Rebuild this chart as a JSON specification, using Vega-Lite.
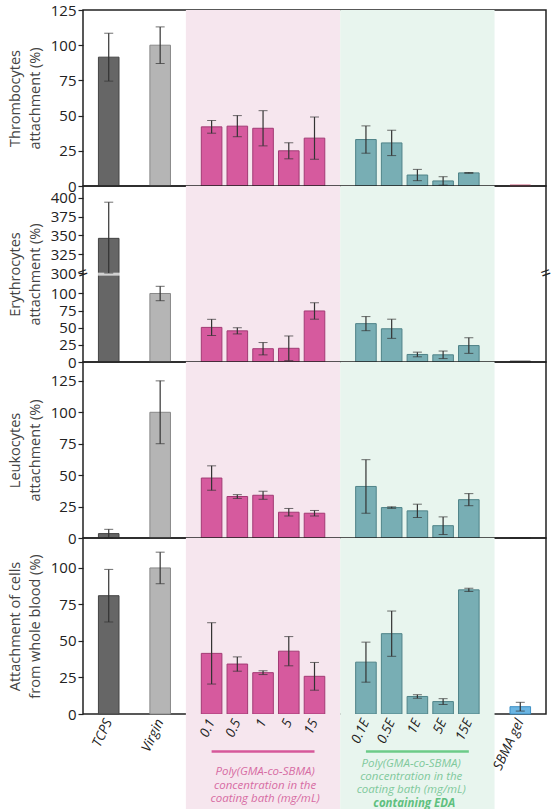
{
  "$schema": "https://vega.github.io/schema/vega-lite/v6.json",
  "padding": {"top": 2, "left": 6, "right": 7, "bottom": 0},
  "background": "white",
  "spacing": 0,
  "bounds": "flush",
  "config": {
    "font": "Open Sans",
    "view": {"stroke": "#222", "strokeWidth": 1.5},
    "axisY": {"grid": false, "domain": false, "ticks": true, "tickSize": 5, "tickColor": "#222", "tickWidth": 1.2, "labelFontSize": 15, "labelColor": "#222", "labelPadding": 2, "labelOverlap": false, "titleFontSize": 14.5, "titleFontWeight": "normal", "titleColor": "#444", "titleLineHeight": 20, "titlePadding": 8}
  },
  "datasets": {
    "bands": [
      {"region": "pink", "start": "_b", "end": "_c"},
      {"region": "green", "start": "_c", "end": "_d"}
    ],
    "notes": [
      {"grp": "coat", "text": "Poly(GMA-co-SBMA)\nconcentration in the\ncoating bath (mg/mL)"},
      {"grp": "coatE", "text": "Poly(GMA-co-SBMA)\nconcentration in the\ncoating bath (mg/mL)"},
      {"grp": "coatE2", "text": "containing EDA"},
      {"grp": "break", "text": "="}
    ],
    "vals": [
      {"panel": 1, "cat": "TCPS", "grp": "TCPS", "value": 91.5, "err": 17},
      {"panel": 1, "cat": "Virgin", "grp": "Virgin", "value": 100, "err": 13},
      {"panel": 1, "cat": "0.1", "grp": "coat", "value": 42, "err": 4.5},
      {"panel": 1, "cat": "0.5", "grp": "coat", "value": 42.5, "err": 7.5},
      {"panel": 1, "cat": "1", "grp": "coat", "value": 41, "err": 12.5},
      {"panel": 1, "cat": "5", "grp": "coat", "value": 25, "err": 5.7},
      {"panel": 1, "cat": "15", "grp": "coat", "value": 34, "err": 15},
      {"panel": 1, "cat": "0.1E", "grp": "coatE", "value": 33, "err": 9.7},
      {"panel": 1, "cat": "0.5E", "grp": "coatE", "value": 30.6, "err": 9},
      {"panel": 1, "cat": "1E", "grp": "coatE", "value": 7.8, "err": 4},
      {"panel": 1, "cat": "5E", "grp": "coatE", "value": 3.6, "err": 3},
      {"panel": 1, "cat": "15E", "grp": "coatE", "value": 9.3, "err": 0.3},
      {"panel": 1, "cat": "SBMA gel", "grp": "gelA", "value": 0.7, "err": 0},
      {"panel": 2, "cat": "TCPS", "grp": "TCPS", "value": 346, "err": 48},
      {"panel": 2, "cat": "Virgin", "grp": "Virgin", "value": 100, "err": 10.5},
      {"panel": 2, "cat": "0.1", "grp": "coat", "value": 50.5, "err": 11.8},
      {"panel": 2, "cat": "0.5", "grp": "coat", "value": 45.5, "err": 4.5},
      {"panel": 2, "cat": "1", "grp": "coat", "value": 19.4, "err": 9},
      {"panel": 2, "cat": "5", "grp": "coat", "value": 20, "err": 18},
      {"panel": 2, "cat": "15", "grp": "coat", "value": 74.5, "err": 12},
      {"panel": 2, "cat": "0.1E", "grp": "coatE", "value": 56, "err": 10.3},
      {"panel": 2, "cat": "0.5E", "grp": "coatE", "value": 48.5, "err": 14},
      {"panel": 2, "cat": "1E", "grp": "coatE", "value": 11, "err": 3.4},
      {"panel": 2, "cat": "5E", "grp": "coatE", "value": 10.5, "err": 5.5},
      {"panel": 2, "cat": "15E", "grp": "coatE", "value": 24, "err": 11.4},
      {"panel": 2, "cat": "SBMA gel", "grp": "gelB", "value": 1.2, "err": 0},
      {"panel": 3, "cat": "TCPS", "grp": "TCPS", "value": 3.5, "err": 3.4},
      {"panel": 3, "cat": "Virgin", "grp": "Virgin", "value": 100, "err": 25},
      {"panel": 3, "cat": "0.1", "grp": "coat", "value": 47.7, "err": 9.7},
      {"panel": 3, "cat": "0.5", "grp": "coat", "value": 33, "err": 1.5},
      {"panel": 3, "cat": "1", "grp": "coat", "value": 34, "err": 3.2},
      {"panel": 3, "cat": "5", "grp": "coat", "value": 20.5, "err": 3},
      {"panel": 3, "cat": "15", "grp": "coat", "value": 19.7, "err": 2.2},
      {"panel": 3, "cat": "0.1E", "grp": "coatE", "value": 41, "err": 21.3},
      {"panel": 3, "cat": "0.5E", "grp": "coatE", "value": 24.2, "err": 0.6},
      {"panel": 3, "cat": "1E", "grp": "coatE", "value": 21.6, "err": 5.3},
      {"panel": 3, "cat": "5E", "grp": "coatE", "value": 9.8, "err": 7},
      {"panel": 3, "cat": "15E", "grp": "coatE", "value": 30.5, "err": 4.8},
      {"panel": 3, "cat": "SBMA gel", "grp": "gelB", "value": 0, "err": 0},
      {"panel": 4, "cat": "TCPS", "grp": "TCPS", "value": 81, "err": 18},
      {"panel": 4, "cat": "Virgin", "grp": "Virgin", "value": 100, "err": 10.8},
      {"panel": 4, "cat": "0.1", "grp": "coat", "value": 41.5, "err": 21},
      {"panel": 4, "cat": "0.5", "grp": "coat", "value": 34.2, "err": 4.9},
      {"panel": 4, "cat": "1", "grp": "coat", "value": 28.3, "err": 1.3},
      {"panel": 4, "cat": "5", "grp": "coat", "value": 43, "err": 10},
      {"panel": 4, "cat": "15", "grp": "coat", "value": 25.8, "err": 9.5},
      {"panel": 4, "cat": "0.1E", "grp": "coatE", "value": 35.5, "err": 13.7},
      {"panel": 4, "cat": "0.5E", "grp": "coatE", "value": 55, "err": 15.5},
      {"panel": 4, "cat": "1E", "grp": "coatE", "value": 12, "err": 1.2},
      {"panel": 4, "cat": "5E", "grp": "coatE", "value": 8.5, "err": 2},
      {"panel": 4, "cat": "15E", "grp": "coatE", "value": 85, "err": 1.1},
      {"panel": 4, "cat": "SBMA gel", "grp": "gelC", "value": 5, "err": 3}
    ]
  },
  "vconcat": [
    {
      "width": 463, "height": 176,
      "resolve": {"scale": {"fill": "independent"}},
      "layer": [
        {"data": {"name": "bands"}, "mark": {"type": "rect"},
         "encoding": {
           "x": {"field": "start", "type": "nominal", "bandPosition": 0.5, "axis": null, "scale": {"type": "band", "domain": ["TCPS","_a","Virgin","_b","0.1","0.5","1","5","15","_c","0.1E","0.5E","1E","5E","15E","_d","SBMA gel"], "paddingInner": 0.2, "paddingOuter": 0.6}},
           "x2": {"field": "end", "bandPosition": 0.5},
           "fill": {"field": "region", "type": "nominal", "scale": {"domain": ["pink","green"], "range": ["#f6e6ee","#e8f5ee"]}, "legend": null}}},
        {"data": {"name": "vals"}, "transform": [{"filter": "datum.panel == 1"}],
         "mark": {"type": "bar", "strokeWidth": 1},
         "encoding": {
           "x": {"field": "cat", "type": "nominal", "axis": null, "scale": {"type": "band", "domain": ["TCPS","_a","Virgin","_b","0.1","0.5","1","5","15","_c","0.1E","0.5E","1E","5E","15E","_d","SBMA gel"], "paddingInner": 0.2, "paddingOuter": 0.6}},
           "y": {"field": "value", "type": "quantitative", "scale": {"domain": [0,125], "nice": false}, "axis": {"title": ["Thrombocytes","attachment (%)"], "values": [0,25,50,75,100,125]}},
           "fill": {"field": "grp", "type": "nominal", "scale": {"domain": ["TCPS","Virgin","coat","coatE","gelA","gelB","gelC"], "range": ["#666666","#b5b5b5","#d65a9e","#78aeb4","#e58aa8","#555555","#6cb6e3"]}, "legend": null},
           "stroke": {"field": "grp", "type": "nominal", "scale": {"domain": ["TCPS","Virgin","coat","coatE","gelA","gelB","gelC"], "range": ["#444444","#888888","#a23a74","#4f8388","#d06080","#333333","#3d8fc4"]}, "legend": null}}},
        {"data": {"name": "vals"}, "transform": [{"filter": "datum.panel == 1 && datum.err > 0"}],
         "mark": {"type": "errorbar", "color": "#333", "ticks": {"size": 9}, "rule": {"strokeWidth": 1.2}},
         "encoding": {
           "x": {"field": "cat", "type": "nominal", "axis": null, "scale": {"type": "band", "domain": ["TCPS","_a","Virgin","_b","0.1","0.5","1","5","15","_c","0.1E","0.5E","1E","5E","15E","_d","SBMA gel"], "paddingInner": 0.2, "paddingOuter": 0.6}},
           "y": {"field": "value", "type": "quantitative", "scale": {"domain": [0,125], "nice": false}, "axis": {"title": ["Thrombocytes","attachment (%)"], "values": [0,25,50,75,100,125]}},
           "yError": {"field": "err"}}}
      ]
    },
    {
      "width": 463, "height": 176,
      "resolve": {"scale": {"fill": "independent"}},
      "layer": [
        {"data": {"name": "bands"}, "mark": {"type": "rect"},
         "encoding": {
           "x": {"field": "start", "type": "nominal", "bandPosition": 0.5, "axis": null, "scale": {"type": "band", "domain": ["TCPS","_a","Virgin","_b","0.1","0.5","1","5","15","_c","0.1E","0.5E","1E","5E","15E","_d","SBMA gel"], "paddingInner": 0.2, "paddingOuter": 0.6}},
           "x2": {"field": "end", "bandPosition": 0.5},
           "fill": {"field": "region", "type": "nominal", "scale": {"domain": ["pink","green"], "range": ["#f6e6ee","#e8f5ee"]}, "legend": null}}},
        {"data": {"name": "vals"}, "transform": [{"filter": "datum.panel == 2"}],
         "mark": {"type": "bar", "strokeWidth": 1},
         "encoding": {
           "x": {"field": "cat", "type": "nominal", "axis": null, "scale": {"type": "band", "domain": ["TCPS","_a","Virgin","_b","0.1","0.5","1","5","15","_c","0.1E","0.5E","1E","5E","15E","_d","SBMA gel"], "paddingInner": 0.2, "paddingOuter": 0.6}},
           "y": {"field": "value", "type": "quantitative", "scale": {"domain": [0,127,300,415.5], "range": [176,89,87,0], "nice": false, "zero": false}, "axis": {"title": ["Erythrocytes","attachment (%)"], "values": [0,25,50,75,100,300,325,350,375,400]}},
           "fill": {"field": "grp", "type": "nominal", "scale": {"domain": ["TCPS","Virgin","coat","coatE","gelA","gelB","gelC"], "range": ["#666666","#b5b5b5","#d65a9e","#78aeb4","#e58aa8","#555555","#6cb6e3"]}, "legend": null},
           "stroke": {"field": "grp", "type": "nominal", "scale": {"domain": ["TCPS","Virgin","coat","coatE","gelA","gelB","gelC"], "range": ["#444444","#888888","#a23a74","#4f8388","#d06080","#333333","#3d8fc4"]}, "legend": null}}},
        {"data": {"name": "notes"}, "transform": [{"filter": "datum.grp == 'break'"}],
         "mark": {"type": "tick", "color": "white", "thickness": 3, "size": 24, "orient": "horizontal"},
         "encoding": {
           "x": {"datum": "TCPS", "type": "nominal", "axis": null, "scale": {"type": "band", "domain": ["TCPS","_a","Virgin","_b","0.1","0.5","1","5","15","_c","0.1E","0.5E","1E","5E","15E","_d","SBMA gel"], "paddingInner": 0.2, "paddingOuter": 0.6}},
           "y": {"datum": 200, "type": "quantitative", "scale": {"domain": [0,127,300,415.5], "range": [176,89,87,0], "nice": false, "zero": false}, "axis": {"title": ["Erythrocytes","attachment (%)"], "values": [0,25,50,75,100,300,325,350,375,400]}}}},
        {"data": {"name": "vals"}, "transform": [{"filter": "datum.panel == 2 && datum.err > 0"}],
         "mark": {"type": "errorbar", "color": "#333", "ticks": {"size": 9}, "rule": {"strokeWidth": 1.2}},
         "encoding": {
           "x": {"field": "cat", "type": "nominal", "axis": null, "scale": {"type": "band", "domain": ["TCPS","_a","Virgin","_b","0.1","0.5","1","5","15","_c","0.1E","0.5E","1E","5E","15E","_d","SBMA gel"], "paddingInner": 0.2, "paddingOuter": 0.6}},
           "y": {"field": "value", "type": "quantitative", "scale": {"domain": [0,127,300,415.5], "range": [176,89,87,0], "nice": false, "zero": false}, "axis": {"title": ["Erythrocytes","attachment (%)"], "values": [0,25,50,75,100,300,325,350,375,400]}},
           "yError": {"field": "err"}}},
        {"data": {"name": "notes"}, "transform": [{"filter": "datum.grp == 'break'"}],
         "mark": {"type": "text", "fontSize": 18, "angle": 340, "color": "#222", "align": "center", "baseline": "middle"},
         "encoding": {
           "x": {"datum": "TCPS", "type": "nominal", "bandPosition": -0.75, "axis": null, "scale": {"type": "band", "domain": ["TCPS","_a","Virgin","_b","0.1","0.5","1","5","15","_c","0.1E","0.5E","1E","5E","15E","_d","SBMA gel"], "paddingInner": 0.2, "paddingOuter": 0.6}},
           "y": {"datum": 200, "type": "quantitative", "scale": {"domain": [0,127,300,415.5], "range": [176,89,87,0], "nice": false, "zero": false}, "axis": {"title": ["Erythrocytes","attachment (%)"], "values": [0,25,50,75,100,300,325,350,375,400]}},
           "text": {"field": "text"}}},
        {"data": {"name": "notes"}, "transform": [{"filter": "datum.grp == 'break'"}],
         "mark": {"type": "text", "fontSize": 18, "angle": 340, "color": "#222", "align": "center", "baseline": "middle"},
         "encoding": {
           "x": {"datum": "SBMA gel", "type": "nominal", "bandPosition": 1.75, "axis": null, "scale": {"type": "band", "domain": ["TCPS","_a","Virgin","_b","0.1","0.5","1","5","15","_c","0.1E","0.5E","1E","5E","15E","_d","SBMA gel"], "paddingInner": 0.2, "paddingOuter": 0.6}},
           "y": {"datum": 200, "type": "quantitative", "scale": {"domain": [0,127,300,415.5], "range": [176,89,87,0], "nice": false, "zero": false}, "axis": {"title": ["Erythrocytes","attachment (%)"], "values": [0,25,50,75,100,300,325,350,375,400]}},
           "text": {"field": "text"}}}
      ]
    },
    {
      "width": 463, "height": 176,
      "resolve": {"scale": {"fill": "independent"}},
      "layer": [
        {"data": {"name": "bands"}, "mark": {"type": "rect"},
         "encoding": {
           "x": {"field": "start", "type": "nominal", "bandPosition": 0.5, "axis": null, "scale": {"type": "band", "domain": ["TCPS","_a","Virgin","_b","0.1","0.5","1","5","15","_c","0.1E","0.5E","1E","5E","15E","_d","SBMA gel"], "paddingInner": 0.2, "paddingOuter": 0.6}},
           "x2": {"field": "end", "bandPosition": 0.5},
           "fill": {"field": "region", "type": "nominal", "scale": {"domain": ["pink","green"], "range": ["#f6e6ee","#e8f5ee"]}, "legend": null}}},
        {"data": {"name": "vals"}, "transform": [{"filter": "datum.panel == 3"}],
         "mark": {"type": "bar", "strokeWidth": 1},
         "encoding": {
           "x": {"field": "cat", "type": "nominal", "axis": null, "scale": {"type": "band", "domain": ["TCPS","_a","Virgin","_b","0.1","0.5","1","5","15","_c","0.1E","0.5E","1E","5E","15E","_d","SBMA gel"], "paddingInner": 0.2, "paddingOuter": 0.6}},
           "y": {"field": "value", "type": "quantitative", "scale": {"domain": [0,140], "nice": false}, "axis": {"title": ["Leukocytes","attachment (%)"], "values": [0,25,50,75,100,125]}},
           "fill": {"field": "grp", "type": "nominal", "scale": {"domain": ["TCPS","Virgin","coat","coatE","gelA","gelB","gelC"], "range": ["#666666","#b5b5b5","#d65a9e","#78aeb4","#e58aa8","#555555","#6cb6e3"]}, "legend": null},
           "stroke": {"field": "grp", "type": "nominal", "scale": {"domain": ["TCPS","Virgin","coat","coatE","gelA","gelB","gelC"], "range": ["#444444","#888888","#a23a74","#4f8388","#d06080","#333333","#3d8fc4"]}, "legend": null}}},
        {"data": {"name": "vals"}, "transform": [{"filter": "datum.panel == 3 && datum.err > 0"}],
         "mark": {"type": "errorbar", "color": "#333", "ticks": {"size": 9}, "rule": {"strokeWidth": 1.2}},
         "encoding": {
           "x": {"field": "cat", "type": "nominal", "axis": null, "scale": {"type": "band", "domain": ["TCPS","_a","Virgin","_b","0.1","0.5","1","5","15","_c","0.1E","0.5E","1E","5E","15E","_d","SBMA gel"], "paddingInner": 0.2, "paddingOuter": 0.6}},
           "y": {"field": "value", "type": "quantitative", "scale": {"domain": [0,140], "nice": false}, "axis": {"title": ["Leukocytes","attachment (%)"], "values": [0,25,50,75,100,125]}},
           "yError": {"field": "err"}}}
      ]
    },
    {
      "width": 463, "height": 176,
      "resolve": {"scale": {"fill": "independent"}},
      "layer": [
        {"data": {"name": "bands"}, "mark": {"type": "rect"},
         "encoding": {
           "x": {"field": "start", "type": "nominal", "bandPosition": 0.5, "axis": null, "scale": {"type": "band", "domain": ["TCPS","_a","Virgin","_b","0.1","0.5","1","5","15","_c","0.1E","0.5E","1E","5E","15E","_d","SBMA gel"], "paddingInner": 0.2, "paddingOuter": 0.6}},
           "x2": {"field": "end", "bandPosition": 0.5},
           "fill": {"field": "region", "type": "nominal", "scale": {"domain": ["pink","green"], "range": ["#f6e6ee","#e8f5ee"]}, "legend": null}}},
        {"data": {"name": "vals"}, "transform": [{"filter": "datum.panel == 4"}],
         "mark": {"type": "bar", "strokeWidth": 1},
         "encoding": {
           "x": {"field": "cat", "type": "nominal", "axis": null, "scale": {"type": "band", "domain": ["TCPS","_a","Virgin","_b","0.1","0.5","1","5","15","_c","0.1E","0.5E","1E","5E","15E","_d","SBMA gel"], "paddingInner": 0.2, "paddingOuter": 0.6}},
           "y": {"field": "value", "type": "quantitative", "scale": {"domain": [0,120.5], "nice": false}, "axis": {"title": ["Attachment of cells","from whole blood (%)"], "values": [0,25,50,75,100]}},
           "fill": {"field": "grp", "type": "nominal", "scale": {"domain": ["TCPS","Virgin","coat","coatE","gelA","gelB","gelC"], "range": ["#666666","#b5b5b5","#d65a9e","#78aeb4","#e58aa8","#555555","#6cb6e3"]}, "legend": null},
           "stroke": {"field": "grp", "type": "nominal", "scale": {"domain": ["TCPS","Virgin","coat","coatE","gelA","gelB","gelC"], "range": ["#444444","#888888","#a23a74","#4f8388","#d06080","#333333","#3d8fc4"]}, "legend": null}}},
        {"data": {"name": "vals"}, "transform": [{"filter": "datum.panel == 4 && datum.err > 0"}],
         "mark": {"type": "errorbar", "color": "#333", "ticks": {"size": 9}, "rule": {"strokeWidth": 1.2}},
         "encoding": {
           "x": {"field": "cat", "type": "nominal", "axis": null, "scale": {"type": "band", "domain": ["TCPS","_a","Virgin","_b","0.1","0.5","1","5","15","_c","0.1E","0.5E","1E","5E","15E","_d","SBMA gel"], "paddingInner": 0.2, "paddingOuter": 0.6}},
           "y": {"field": "value", "type": "quantitative", "scale": {"domain": [0,120.5], "nice": false}, "axis": {"title": ["Attachment of cells","from whole blood (%)"], "values": [0,25,50,75,100]}},
           "yError": {"field": "err"}}}
      ]
    },
    {
      "width": 463, "height": 95,
      "view": {"stroke": null},
      "resolve": {"scale": {"fill": "independent"}},
      "layer": [
        {"data": {"name": "bands"}, "mark": {"type": "rect"},
         "encoding": {
           "x": {"field": "start", "type": "nominal", "bandPosition": 0.5, "axis": null, "scale": {"type": "band", "domain": ["TCPS","_a","Virgin","_b","0.1","0.5","1","5","15","_c","0.1E","0.5E","1E","5E","15E","_d","SBMA gel"], "paddingInner": 0.2, "paddingOuter": 0.6}},
           "x2": {"field": "end", "bandPosition": 0.5},
           "fill": {"field": "region", "type": "nominal", "scale": {"domain": ["pink","green"], "range": ["#f6e6ee","#e8f5ee"]}, "legend": null}}},
        {"data": {"name": "vals"}, "transform": [{"filter": "datum.panel == 4"}],
         "mark": {"type": "text", "angle": 295, "align": "right", "baseline": "middle", "fontStyle": "italic", "fontSize": 13.5, "color": "#222"},
         "encoding": {
           "x": {"field": "cat", "type": "nominal", "axis": null, "scale": {"type": "band", "domain": ["TCPS","_a","Virgin","_b","0.1","0.5","1","5","15","_c","0.1E","0.5E","1E","5E","15E","_d","SBMA gel"], "paddingInner": 0.2, "paddingOuter": 0.6}},
           "y": {"datum": 6, "type": "quantitative", "scale": {"domain": [0,95], "reverse": true, "nice": false, "zero": false}, "axis": null},
           "text": {"field": "cat"}}},
        {"data": {"name": "notes"}, "transform": [{"filter": "datum.grp == 'coat'"}],
         "mark": {"type": "rule", "color": "#d6589a", "strokeWidth": 2.5},
         "encoding": {
           "x": {"datum": "0.1", "type": "nominal", "bandPosition": 0.5, "axis": null, "scale": {"type": "band", "domain": ["TCPS","_a","Virgin","_b","0.1","0.5","1","5","15","_c","0.1E","0.5E","1E","5E","15E","_d","SBMA gel"], "paddingInner": 0.2, "paddingOuter": 0.6}},
           "x2": {"datum": "15", "bandPosition": 0.5},
           "y": {"datum": 37.4, "type": "quantitative", "scale": {"domain": [0,95], "reverse": true, "nice": false, "zero": false}, "axis": null}}},
        {"data": {"name": "notes"}, "transform": [{"filter": "datum.grp == 'coatE'"}],
         "mark": {"type": "rule", "color": "#6dcb88", "strokeWidth": 2.5},
         "encoding": {
           "x": {"datum": "0.1E", "type": "nominal", "bandPosition": 0.5, "axis": null, "scale": {"type": "band", "domain": ["TCPS","_a","Virgin","_b","0.1","0.5","1","5","15","_c","0.1E","0.5E","1E","5E","15E","_d","SBMA gel"], "paddingInner": 0.2, "paddingOuter": 0.6}},
           "x2": {"datum": "15E", "bandPosition": 0.5},
           "y": {"datum": 37.4, "type": "quantitative", "scale": {"domain": [0,95], "reverse": true, "nice": false, "zero": false}, "axis": null}}},
        {"data": {"name": "notes"}, "transform": [{"filter": "datum.grp == 'coat'"}],
         "mark": {"type": "text", "fontSize": 11.5, "fontStyle": "italic", "color": "#d66ca3", "align": "center", "baseline": "top", "lineBreak": "\n", "lineHeight": 13.5},
         "encoding": {
           "x": {"datum": "1", "type": "nominal", "bandPosition": 0.6, "axis": null, "scale": {"type": "band", "domain": ["TCPS","_a","Virgin","_b","0.1","0.5","1","5","15","_c","0.1E","0.5E","1E","5E","15E","_d","SBMA gel"], "paddingInner": 0.2, "paddingOuter": 0.6}},
           "y": {"datum": 52, "type": "quantitative", "scale": {"domain": [0,95], "reverse": true, "nice": false, "zero": false}, "axis": null},
           "text": {"field": "text"}}},
        {"data": {"name": "notes"}, "transform": [{"filter": "datum.grp == 'coatE'"}],
         "mark": {"type": "text", "fontSize": 11.5, "fontStyle": "italic", "color": "#80c99c", "align": "center", "baseline": "top", "lineBreak": "\n", "lineHeight": 13},
         "encoding": {
           "x": {"datum": "1E", "type": "nominal", "bandPosition": 0.2, "axis": null, "scale": {"type": "band", "domain": ["TCPS","_a","Virgin","_b","0.1","0.5","1","5","15","_c","0.1E","0.5E","1E","5E","15E","_d","SBMA gel"], "paddingInner": 0.2, "paddingOuter": 0.6}},
           "y": {"datum": 43.5, "type": "quantitative", "scale": {"domain": [0,95], "reverse": true, "nice": false, "zero": false}, "axis": null},
           "text": {"field": "text"}}},
        {"data": {"name": "notes"}, "transform": [{"filter": "datum.grp == 'coatE2'"}],
         "mark": {"type": "text", "fontSize": 11.5, "fontStyle": "italic", "fontWeight": "bold", "color": "#5fc07f", "align": "center", "baseline": "top"},
         "encoding": {
           "x": {"datum": "1E", "type": "nominal", "bandPosition": 0.35, "axis": null, "scale": {"type": "band", "domain": ["TCPS","_a","Virgin","_b","0.1","0.5","1","5","15","_c","0.1E","0.5E","1E","5E","15E","_d","SBMA gel"], "paddingInner": 0.2, "paddingOuter": 0.6}},
           "y": {"datum": 83.5, "type": "quantitative", "scale": {"domain": [0,95], "reverse": true, "nice": false, "zero": false}, "axis": null},
           "text": {"field": "text"}}}
      ]
    }
  ]
}
